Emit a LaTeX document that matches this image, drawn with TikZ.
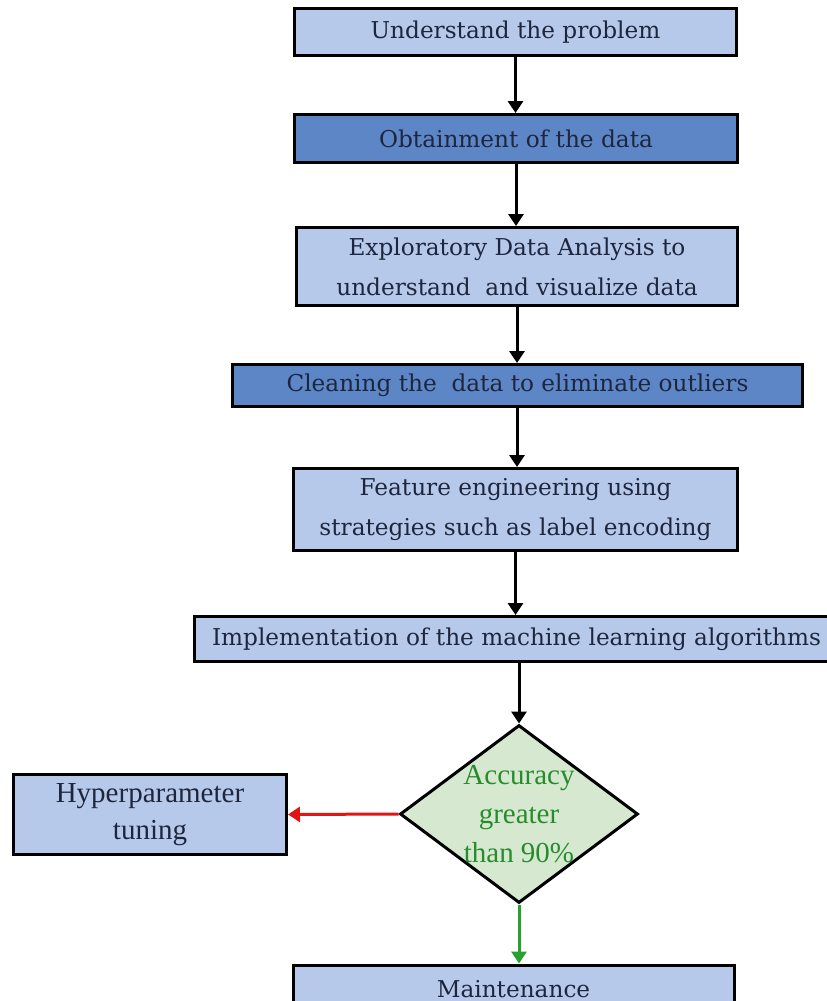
\documentclass[tikz,border=0pt]{standalone}
\usepackage{fontspec}
\setmainfont{DejaVu Serif}
\newfontfamily\timesf{Liberation Serif}
\usetikzlibrary{arrows.meta,shapes.geometric}
\definecolor{lightfill}{RGB}{183,201,234}
\definecolor{darkfill}{RGB}{92,134,198}
\definecolor{navytext}{RGB}{30,38,62}
\definecolor{diafill}{RGB}{214,232,208}
\definecolor{greentext}{RGB}{40,140,45}
\definecolor{greenarrow}{RGB}{40,160,50}
\definecolor{redarrow}{RGB}{225,20,20}
\begin{document}
\begin{tikzpicture}[x=1pt,y=-1pt,
  box/.style={draw=black, line width=3pt, rectangle, inner sep=0pt,
    text=navytext, align=center, font=\fontsize{23.2}{40}\selectfont},
  lbox/.style={box, fill=lightfill},
  dbox/.style={box, fill=darkfill},
  flow/.style={-{Triangle[width=15pt,length=12pt]}, line width=3pt}
]
\clip (0,0) rectangle (827,1001);
\fill[white] (0,0) rectangle (827,1001);

\node[lbox, minimum width=442pt, minimum height=47pt] (n1) at (515.5,32) {Understand the problem};
\node[dbox, minimum width=443pt, minimum height=48pt] (n2) at (516,138.5) {Obtainment of the data};
\node[lbox, minimum width=441pt, minimum height=78pt] (n3) at (517,266.5) {Exploratory Data Analysis to\\understand~ and visualize data};
\node[dbox, minimum width=570pt, minimum height=42pt] (n4) at (517.5,385.5) {Cleaning the~ data to eliminate outliers};
\node[lbox, minimum width=444pt, minimum height=82pt] (n5) at (515.5,509.5) {Feature engineering using\\strategies such as label encoding};
\node[lbox, minimum width=644pt, minimum height=45pt] (n6) at (516.5,639) {Implementation of the machine learning algorithms};
\node[draw=black, line width=3pt, fill=diafill, shape=diamond, inner sep=-30pt,
  minimum width=238pt, minimum height=178pt, text=greentext, align=center,
  font=\timesf\fontsize{29}{39}\selectfont] (d) at (519,814) {Accuracy\\greater\\than 90\%};
\node[lbox, minimum width=273pt, minimum height=80pt,
  font=\timesf\fontsize{29}{37}\selectfont] (h) at (150,814.5) {Hyperparameter\\tuning};
\node[lbox, minimum width=441pt, minimum height=48pt] (m) at (513.5,989) {Maintenance};

\draw[flow] (n1.south) -- (n1.south |- n2.north);
\draw[flow] (n2.south) -- (n2.south |- n3.north);
\draw[flow] (n3.south) -- (n3.south |- n4.north);
\draw[flow] (n4.south -| n3.south) -- (n3.south |- n5.north);
\draw[flow] (n5.south) -- (n5.south |- n6.north);
\draw[flow] (n6.south -| d.north) -- (d.north);
\draw[flow, draw=redarrow, fill=redarrow] (d.west) -- (h.east);
\draw[flow, draw=greenarrow, fill=greenarrow] (d.south) -- (d.south |- m.north);
\end{tikzpicture}
\end{document}
